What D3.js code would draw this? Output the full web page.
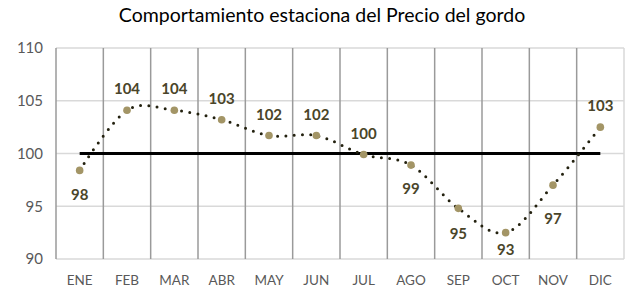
<!DOCTYPE html>
<html>
<head>
<meta charset="utf-8">
<script src="https://cdn.jsdelivr.net/npm/d3@7"></script>
<style>
  body { margin: 0; background: #fff; }
  text { font-family: Lato, "Open Sans", sans-serif; }
</style>
</head>
<body>
<div id="chart-area"></div>
<script>
// chart data
var months = ["ENE", "FEB", "MAR", "ABR", "MAY", "JUN", "JUL", "AGO", "SEP", "OCT", "NOV", "DIC"];
var values = [98.4, 104.1, 104.1, 103.2, 101.7, 101.7, 99.9, 98.9, 94.8, 92.5, 97.0, 102.5];
var yTicks = [90, 95, 100, 105, 110];
var baseline = 100;
var title = "Comportamiento estaciona del Precio del gordo";

var W = 642, H = 297;
var margin = {left: 56, right: 18, top: 48, bottom: 38};
var width = W - margin.left - margin.right,
    height = H - margin.top - margin.bottom;

var svg = d3.select("#chart-area")
    .append("svg")
        .attr("width", W)
        .attr("height", H);

var g = svg.append("g")
    .attr("transform", "translate(" + margin.left + "," + margin.top + ")");

var x = d3.scaleBand()
    .domain(months)
    .range([0, width]);

var y = d3.scaleLinear()
    .domain([90, 110])
    .range([height, 0]);

var cx = function(m) { return x(m) + x.bandwidth() / 2; };

// title
svg.append("text")
    .attr("x", 322)
    .attr("y", 22)
    .attr("text-anchor", "middle")
    .attr("font-size", "19.5px")
    .attr("fill", "#000")
    .text(title);

// horizontal gridlines
g.selectAll(".hgrid")
    .data(yTicks)
    .enter().append("line")
        .attr("x1", 0).attr("x2", width)
        .attr("y1", d => y(d)).attr("y2", d => y(d))
        .attr("stroke", "#d9d9d9")
        .attr("stroke-width", 1.5);

// right border
g.append("line")
    .attr("x1", width).attr("x2", width)
    .attr("y1", 0).attr("y2", height)
    .attr("stroke", "#d9d9d9")
    .attr("stroke-width", 1.5);

// vertical category separators
g.selectAll(".vgrid")
    .data(months)
    .enter().append("line")
        .attr("x1", d => x(d)).attr("x2", d => x(d))
        .attr("y1", 0).attr("y2", height)
        .attr("stroke", "#9a9a9a")
        .attr("stroke-width", 1.5);

// y axis labels
var yAxisCall = d3.axisLeft(y).tickValues(yTicks).tickSize(0).tickPadding(13);
var yAxis = g.append("g").call(yAxisCall);
yAxis.select(".domain").remove();
yAxis.selectAll("text")
    .attr("font-size", "15px")
    .attr("fill", "#595959")
    .style("font-family", "Lato, sans-serif");

// x axis labels
var xAxisCall = d3.axisBottom(x).tickSize(0).tickPadding(16);
var xAxis = g.append("g")
    .attr("transform", "translate(0," + height + ")")
    .call(xAxisCall);
xAxis.select(".domain").remove();
xAxis.selectAll("text")
    .attr("font-size", "13.5px")
    .attr("fill", "#595959")
    .style("font-family", "Lato, sans-serif");

// reference line at 100
g.append("line")
    .attr("x1", cx(months[0])).attr("x2", cx(months[months.length - 1]))
    .attr("y1", y(baseline)).attr("y2", y(baseline))
    .attr("stroke", "#000")
    .attr("stroke-width", 3);

// smoothed dotted line
var line = d3.line()
    .x((d, i) => cx(months[i]))
    .y(d => y(d))
    .curve(d3.curveCardinal.tension(0));

g.append("path")
    .datum(values)
    .attr("d", line)
    .attr("fill", "none")
    .attr("stroke", "#23210f")
    .attr("stroke-width", 3)
    .attr("stroke-linecap", "round")
    .attr("stroke-dasharray", "0 8.3");

// points
g.selectAll(".pt")
    .data(values)
    .enter().append("circle")
        .attr("cx", (d, i) => cx(months[i]))
        .attr("cy", d => y(d))
        .attr("r", 3.8)
        .attr("fill", "#a39566");

// data labels
var below = {ENE: 24, AGO: 24, SEP: 25, OCT: 17, NOV: 34};
g.selectAll(".lbl")
    .data(values)
    .enter().append("text")
        .attr("x", (d, i) => cx(months[i]))
        .attr("y", (d, i) => y(d) + (below[months[i]] !== undefined ? below[months[i]] : -21))
        .attr("dy", "0.35em")
        .attr("text-anchor", "middle")
        .attr("font-size", "15px")
        .attr("font-weight", "bold")
        .attr("fill", "#4a4529")
        .text(d => Math.round(d));
</script>
</body>
</html>
